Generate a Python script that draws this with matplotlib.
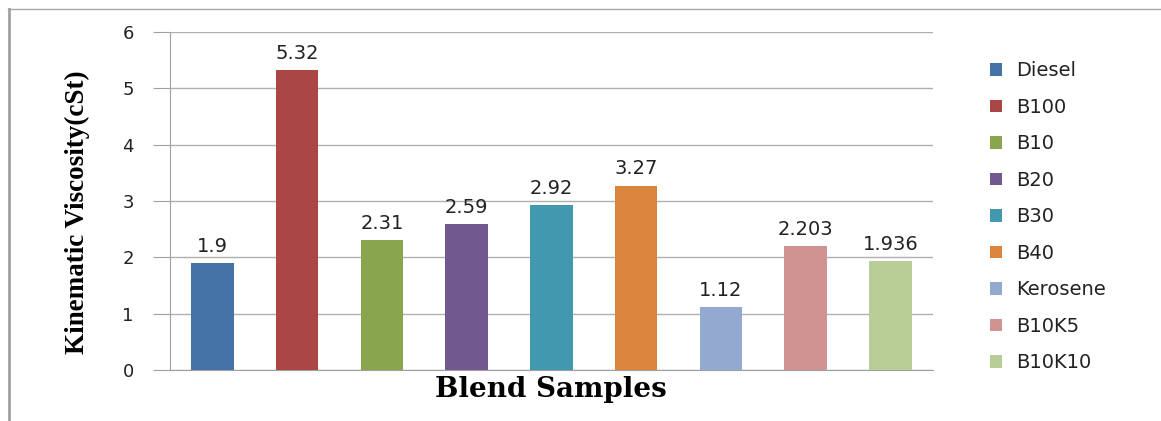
import matplotlib
matplotlib.use("Agg")
import matplotlib.pyplot as plt
from matplotlib.lines import Line2D

samples = ["Diesel", "B100", "B10", "B20", "B30", "B40", "Kerosene", "B10K5", "B10K10"]
viscosity = [1.9, 5.32, 2.31, 2.59, 2.92, 3.27, 1.12, 2.203, 1.936]
value_labels = ["1.9", "5.32", "2.31", "2.59", "2.92", "3.27", "1.12", "2.203", "1.936"]
colors = ["#4572A7", "#AA4643", "#89A54E", "#71588F", "#4198AF",
          "#DB843D", "#93A9CF", "#D19392", "#B9CD96"]

fig = plt.figure(figsize=(11.61, 4.21), dpi=100)
ax = fig.add_axes([0.1464, 0.1211, 0.657, 0.803])

for i, (name, v, lab, c) in enumerate(zip(samples, viscosity, value_labels, colors)):
    ax.bar(i, v, width=0.5, color=c, label=name, zorder=3)
    ax.text(i, v + 0.13, lab, ha="center", va="bottom", fontsize=14,
            color="#222222", family="DejaVu Sans")

ax.set_xlim(-0.5, len(samples) - 0.5)
ax.set_ylim(0, 6)
ax.set_yticks(range(0, 7))
ax.set_xticks([])
ax.yaxis.grid(True, color="#B0B0B0", linewidth=1, zorder=0)
for s in ["top", "right"]:
    ax.spines[s].set_visible(False)
for s in ["left", "bottom"]:
    ax.spines[s].set_color("#A0A0A0")
ax.tick_params(axis="y", length=12, color="#A0A0A0", labelsize=13, pad=14,
               labelcolor="#222222")

ax.set_ylabel("Kinematic Viscosity(cSt)", family="Liberation Serif",
              fontweight="bold", fontsize=19.5)
ax.yaxis.set_label_coords(-0.105, 0.467)
ax.set_xlabel("Blend Samples", family="DejaVu Serif", fontweight="bold",
              fontsize=20, labelpad=4)

leg = ax.legend(loc="upper left", bbox_to_anchor=(1.052, 0.965), frameon=False,
                fontsize=14, handlelength=0.62, handleheight=0.62,
                labelspacing=0.9, handletextpad=0.75)
for t in leg.get_texts():
    t.set_color("#222222")

# outer frame lines of the original figure
fig.add_artist(Line2D([8 / 1161, 1.0], [1 - 9 / 421, 1 - 9 / 421],
                      transform=fig.transFigure, color="#A8A8A8", linewidth=1))
fig.add_artist(Line2D([9 / 1161, 9 / 1161], [0, 1 - 9 / 421],
                      transform=fig.transFigure, color="#A0A0A0", linewidth=2))

fig.savefig("out.png", dpi=100)
